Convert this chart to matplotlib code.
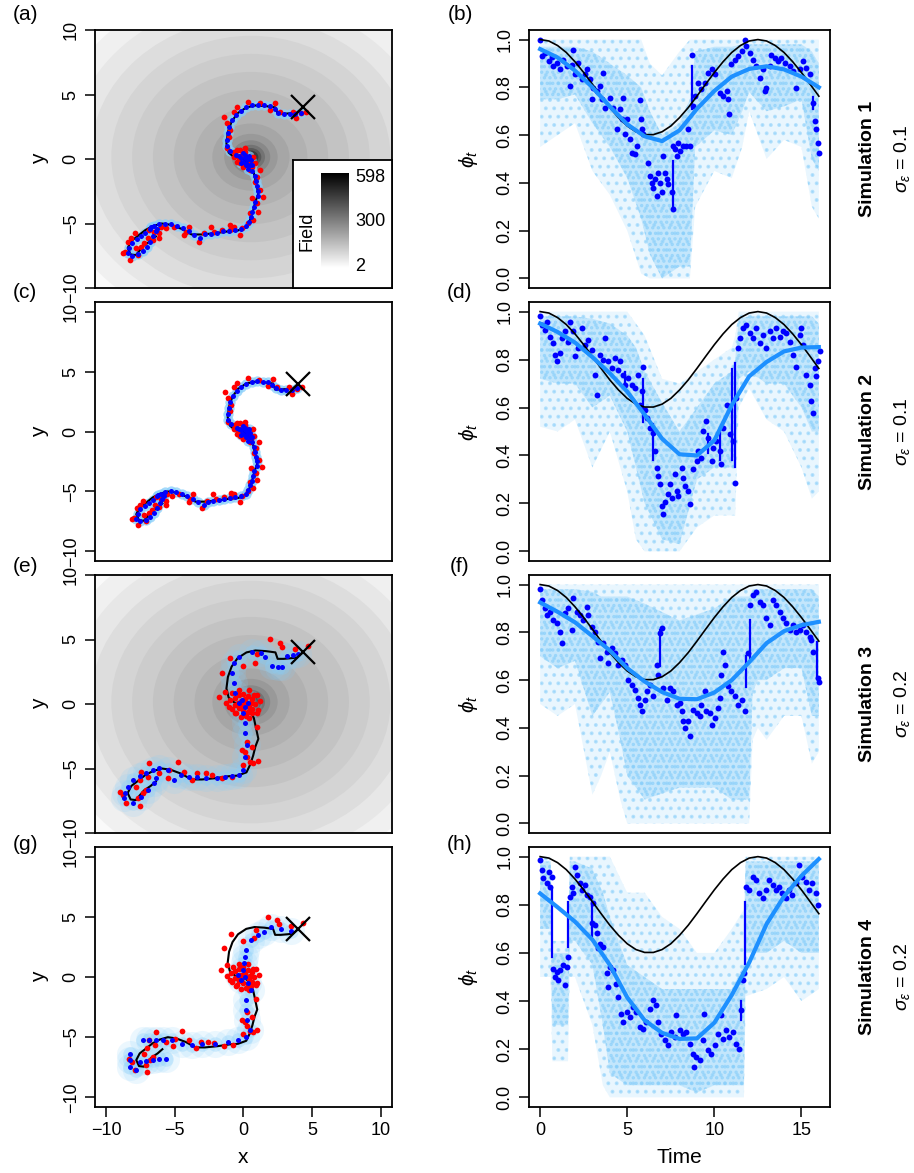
import numpy as np
import matplotlib
matplotlib.use("Agg")
import matplotlib.pyplot as plt
from matplotlib.patches import Ellipse
from matplotlib.colors import LinearSegmentedColormap, Normalize

plt.rcParams["font.family"] = ["Liberation Sans", "DejaVu Sans"]
plt.rcParams["mathtext.fontset"] = "custom"
plt.rcParams["mathtext.rm"] = "Liberation Sans"
plt.rcParams["mathtext.it"] = "Liberation Sans:italic"
plt.rcParams["hatch.linewidth"] = 1.6

# ---------------- data: movement tracks (left column) ----------------
start_xy = (4.0, 4.0)
field_center = (0.5, 0.15)
field_ring_r = [15.0, 13.6, 12.2, 10.8, 9.4, 8.0, 6.6, 5.2, 3.8, 2.6, 1.8, 1.3, 0.95, 0.7, 0.5, 0.3, 0.15]
field_ring_val = [15, 38, 60, 82, 103, 123, 143, 163, 185, 210, 240, 280, 330, 390, 460, 530, 590]
field_ticks = [2, 300, 598]

true_path = [(4.0, 4.0), (3.6, 3.6), (3.2, 3.55), (2.7, 3.5), (2.3, 3.5), (2.15, 4.0),
             (1.5, 4.1), (0.8, 4.15), (0.2, 4.0), (-0.4, 3.55), (-0.8, 2.9), (-1.05, 2.1),
             (-1.15, 1.2), (-1.0, 0.5), (-0.6, 0.1), (0.0, 0.0), (0.4, -0.4), (0.7, -1.1),
             (0.85, -1.9), (1.0, -2.7), (0.8, -3.3), (0.65, -4.0), (0.45, -4.7), (0.2, -5.3),
             (-0.4, -5.55), (-1.0, -5.6), (-1.9, -5.75), (-2.8, -5.85), (-3.5, -5.85),
             (-4.2, -5.4), (-4.9, -5.1), (-5.5, -5.0), (-6.1, -5.2), (-6.6, -5.5),
             (-7.1, -5.95), (-7.55, -6.35), (-7.8, -6.9), (-7.6, -7.4), (-7.25, -7.45),
             (-7.0, -7.1), (-6.7, -6.7), (-6.25, -6.35), (-5.9, -6.0)]

red_ac = [(0.33, 4.44), (1.11, 4.32), (2.11, 4.37), (1.78, 3.8), (2.44, 3.67), (3.33, 3.67),
          (3.56, 3.15), (3.89, 3.54), (4.22, 3.67), (-0.44, 4.06), (-0.67, 3.67), (-1.33, 3.28),
          (-1.11, 2.76), (-0.89, 2.25), (-1.0, 1.73), (-1.11, 0.83), (-0.67, 0.57), (-0.44, -0.21),
          (-0.22, 0.7), (0.11, 0.83), (0.0, -0.59), (0.44, -0.85), (0.89, -1.37), (1.11, -0.85),
          (0.78, -1.76), (1.11, -2.4), (1.33, -2.92), (0.89, -3.44), (0.56, -3.05), (1.0, -4.08),
          (0.44, -4.21), (0.67, -4.73), (0.33, -4.99), (-0.11, -5.37), (-0.22, -5.89),
          (-0.67, -5.25), (-0.89, -5.12), (-1.44, -5.5), (-2.0, -5.63), (-2.67, -5.76),
          (-3.0, -6.41), (-3.67, -5.25), (-3.89, -5.63), (-4.67, -5.25), (-5.22, -5.37),
          (-5.67, -5.76), (-5.56, -5.25), (-6.0, -5.63), (-6.11, -6.28), (-6.33, -5.5),
          (-6.67, -6.54), (-6.89, -6.8), (-7.22, -6.93), (-7.56, -6.15), (-7.78, -6.41),
          (-8.0, -7.18), (-8.11, -7.31), (-7.67, -7.83), (-7.11, -7.44), (-7.33, -5.76),
          (-6.44, -6.15), (-5.67, -6.15), (-4.0, -5.89), (-2.22, -5.25), (-0.89, -5.5),
          (-0.56, 0.44), (-0.33, 0.05), (-0.11, 0.31), (0.22, 0.18), (0.44, -0.21), (0.67, 0.18),
          (-0.22, -0.34), (0.11, 0.57), (0.33, -0.47), (-0.67, 0.18), (-0.44, 0.7), (0.56, -0.59),
          (0.78, -0.34)]

blue_ac = [(3.9, 3.6), (3.5, 3.45), (3.1, 3.5), (2.7, 3.45), (2.35, 3.6), (2.1, 3.9), (1.8, 4.1),
           (1.4, 4.15), (1.0, 4.2), (0.6, 4.15), (0.2, 4.0), (-0.2, 3.75), (-0.5, 3.4), (-0.75, 3.0),
           (-0.95, 2.5), (-1.05, 2.0), (-1.1, 1.5), (-1.1, 1.0), (-0.9, 0.6), (-0.5, 0.3), (-0.2, 0.1),
           (0.1, 0.3), (0.3, 0.0), (0.0, -0.2), (0.2, -0.3), (0.45, -0.5), (0.6, -0.9), (0.75, -1.3),
           (0.85, -1.7), (0.9, -2.1), (1.0, -2.5), (0.95, -2.9), (0.8, -3.3), (0.7, -3.7), (0.6, -4.1),
           (0.5, -4.5), (0.35, -4.9), (0.15, -5.2), (-0.2, -5.4), (-0.6, -5.5), (-1.0, -5.55),
           (-1.4, -5.6), (-1.8, -5.7), (-2.2, -5.8), (-2.6, -5.85), (-2.9, -6.1), (-3.3, -5.9),
           (-3.7, -5.6), (-4.1, -5.35), (-4.5, -5.2), (-4.9, -5.05), (-5.3, -5.0), (-5.7, -5.05),
           (-6.0, -5.2), (-6.3, -5.4), (-6.6, -5.7), (-6.9, -5.95), (-7.2, -6.2), (-7.5, -6.5),
           (-7.7, -6.9), (-7.8, -7.3), (-7.5, -7.5), (-7.1, -7.35), (-6.8, -7.1), (-6.5, -6.8),
           (-6.3, -6.4), (-6.1, -6.0), (-5.9, -5.6), (-6.2, -5.3), (-5.8, -5.4), (-0.3, 0.2),
           (0.1, 0.1), (0.4, 0.2), (0.2, -0.5), (-0.2, -0.3), (0.5, -0.1), (0.0, 0.45), (0.3, -0.8),
           (0.6, -0.5)]

red_eg = [(1.78, 5.01), (2.45, 4.7), (2.56, 4.39), (3.45, 4.24), (4.34, 4.5), (0.89, 3.88),
          (0.78, 3.2), (0.0, 2.95), (-0.89, 3.54), (-1.44, 2.43), (-1.66, 0.57), (-1.22, 0.96),
          (-0.77, 0.83), (-0.33, 1.09), (0.34, 1.09), (0.89, 0.7), (-1.0, -0.21), (-0.55, -0.72),
          (0.56, -0.72), (1.0, -0.46), (0.22, -2.92), (-0.11, -3.57), (0.11, -3.7), (0.22, -4.08),
          (0.45, -4.47), (1.0, -4.42), (0.67, -4.6), (0.0, -4.73), (-0.77, -5.63), (-1.44, -5.76),
          (-2.11, -5.5), (-2.55, -5.37), (-3.11, -5.37), (-3.44, -5.89), (-4.0, -5.25),
          (-4.44, -4.47), (-5.0, -5.12), (-5.11, -5.76), (-5.66, -5.37), (-6.33, -4.6),
          (-6.44, -5.63), (-6.89, -5.25), (-7.0, -5.89), (-7.22, -6.41), (-6.77, -6.93),
          (-6.55, -6.67), (-7.11, -7.31), (-7.0, -7.91), (-7.89, -7.7), (-8.33, -6.8),
          (-8.11, -7.05), (-0.9, 0.3), (-0.6, 0.5), (-0.3, 0.7), (0.0, 0.8), (0.3, 0.6), (0.6, 0.4),
          (0.8, 0.0), (0.6, -0.4), (0.3, -0.6), (0.0, -0.5), (-0.3, -0.3), (-0.6, -0.1),
          (-0.2, 0.2), (0.2, 0.1), (0.4, -0.2), (-0.4, 0.1), (0.1, 0.4), (0.5, 0.1), (-0.1, -0.1),
          (0.7, 0.7), (-0.8, -0.4), (0.9, -0.7), (-0.5, -0.7), (0.2, -0.9), (-1.2, 0.1),
          (1.1, 0.2), (0.4, -1.1), (-0.2, -1.0), (0.9, -1.8), (0.6, -3.3)]

blue_e = [(3.7, 3.9), (3.3, 3.8), (2.9, 3.7), (2.6, 2.9), (2.3, 2.9), (1.9, 2.95), (1.45, 3.67),
          (1.2, 3.93), (0.56, 4.06), (-0.33, 3.67), (-0.66, 3.15), (-0.77, 2.38), (-0.66, 1.6),
          (-0.55, 0.83), (-0.33, 0.05), (-0.11, 0.31), (0.11, -0.21), (0.3, 0.1), (0.0, -0.72),
          (0.11, -1.5), (0.07, -2.27), (0.22, -3.18), (0.11, -4.08), (0.0, -5.12), (-0.33, -5.5),
          (-0.77, -5.58), (-1.22, -5.63), (-1.77, -5.76), (-2.55, -5.76), (-3.11, -5.68),
          (-3.66, -5.63), (-4.22, -5.5), (-4.66, -5.89), (-5.11, -5.12), (-5.66, -4.99),
          (-6.11, -5.12), (-6.55, -5.37), (-7.0, -5.58), (-7.44, -5.89), (-7.77, -6.41),
          (-8.0, -6.93), (-8.07, -7.31), (-7.44, -7.7), (-6.89, -7.18), (-6.44, -6.67),
          (-6.0, -6.15), (-5.89, -5.76)]

blue_g = [(3.43, 3.86), (2.71, 3.97), (2.0, 4.14), (1.52, 3.78), (1.04, 3.5), (0.56, 3.08),
          (0.2, 2.25), (0.08, 1.7), (0.03, 1.14), (-0.04, 0.58), (-0.4, 0.17), (0.08, 0.03),
          (-0.16, -0.25), (0.32, -0.53), (0.56, -1.08), (0.2, -1.92), (0.2, -2.75), (0.27, -3.58),
          (0.44, -4.42), (0.2, -4.97), (-0.4, -5.25), (-1.11, -5.39), (-2.07, -5.53),
          (-3.02, -5.58), (-3.74, -5.67), (-4.46, -5.58), (-5.17, -5.25), (-5.89, -5.25),
          (-6.37, -5.25), (-6.85, -5.25), (-7.33, -5.25), (-5.65, -6.78), (-6.13, -6.83),
          (-6.61, -6.92), (-7.09, -6.97), (-7.56, -7.06), (-8.28, -6.36), (-8.28, -6.92),
          (-8.23, -7.47), (-7.8, -7.75)]

# ---------------- data: phi_t (right column) ----------------
time_grid = [0, 0.5, 1, 1.5, 2, 2.5, 3, 3.5, 4, 4.5, 5, 5.5, 6, 6.5, 7, 7.5, 8, 8.5, 9, 9.5,
             10, 10.5, 11, 11.5, 12, 12.5, 13, 13.5, 14, 14.5, 15, 15.5, 16]
true_phi = [1.0, 0.994, 0.975, 0.946, 0.907, 0.862, 0.813, 0.763, 0.715, 0.673, 0.638, 0.614,
            0.602, 0.602, 0.614, 0.638, 0.673, 0.715, 0.763, 0.813, 0.862, 0.907, 0.946, 0.975,
            0.994, 1.0, 0.994, 0.975, 0.946, 0.907, 0.862, 0.813, 0.763]

fit_t = [0, 1, 2, 3, 4, 5, 6, 7, 8, 9, 10, 11, 12, 13, 14, 15, 16]
fit_b = [0.96, 0.925, 0.87, 0.80, 0.72, 0.645, 0.595, 0.575, 0.62, 0.71, 0.785, 0.845, 0.877,
         0.888, 0.875, 0.845, 0.80]
fit_d = [0.95, 0.915, 0.871, 0.81, 0.743, 0.666, 0.57, 0.47, 0.405, 0.40, 0.463, 0.61, 0.73,
         0.79, 0.834, 0.85, 0.852]
fit_f = [0.925, 0.886, 0.842, 0.784, 0.724, 0.65, 0.594, 0.55, 0.522, 0.52, 0.548, 0.60, 0.675,
         0.755, 0.805, 0.83, 0.844]
fit_h = [0.847, 0.79, 0.73, 0.655, 0.55, 0.415, 0.32, 0.268, 0.243, 0.245, 0.31, 0.425, 0.56,
         0.72, 0.835, 0.92, 0.99]

est_b = [(0.0, 1.0), (0.1, 0.93), (0.29, 0.945), (0.48, 0.91), (0.67, 0.925), (0.76, 0.89),
         (0.96, 0.90), (1.15, 0.875), (1.34, 0.916), (1.53, 0.89), (1.72, 0.805), (1.81, 0.895),
         (1.91, 0.958), (2.0, 0.854), (2.2, 0.90), (2.39, 0.833), (2.58, 0.854), (2.67, 0.875),
         (2.87, 0.833), (2.96, 0.75), (3.06, 0.798), (3.25, 0.784), (3.44, 0.805), (3.53, 0.75),
         (3.63, 0.861), (3.72, 0.714), (4.01, 0.756), (4.2, 0.714), (4.39, 0.624), (4.58, 0.708),
         (4.68, 0.666), (4.78, 0.756), (4.87, 0.603), (4.97, 0.666), (5.16, 0.582), (5.25, 0.526),
         (5.44, 0.52), (5.54, 0.554), (5.73, 0.749), (5.77, 0.666), (5.83, 0.624), (5.92, 0.603),
         (6.21, 0.485), (6.3, 0.429), (6.4, 0.40), (6.49, 0.38), (6.59, 0.415), (6.69, 0.345),
         (6.78, 0.443), (6.88, 0.40), (6.97, 0.36), (7.07, 0.512), (7.16, 0.443), (7.26, 0.415),
         (7.35, 0.394), (7.55, 0.36), (7.6, 0.29), (7.64, 0.554), (7.74, 0.54), (7.83, 0.512),
         (7.93, 0.568), (8.02, 0.533), (8.21, 0.554), (8.4, 0.554), (8.5, 0.624), (8.6, 0.554),
         (8.69, 0.937), (8.79, 0.721), (8.88, 0.763), (9.07, 0.819), (9.26, 0.791), (9.46, 0.819),
         (9.65, 0.861), (9.84, 0.875), (10.03, 0.854), (10.31, 0.777), (10.51, 0.763),
         (10.7, 0.784), (10.79, 0.75), (10.85, 0.687), (10.98, 0.896), (11.17, 0.916),
         (11.37, 0.93), (11.56, 0.951), (11.75, 1.0), (11.84, 0.972), (12.03, 0.944),
         (12.23, 0.916), (12.42, 0.889), (12.61, 0.84), (12.8, 0.875), (12.89, 0.784),
         (12.99, 0.798), (13.18, 0.889), (13.27, 0.937), (13.47, 0.923), (13.66, 0.909),
         (13.85, 0.923), (14.04, 0.902), (14.33, 0.889), (14.52, 0.868), (14.71, 0.798),
         (14.9, 0.875), (15.09, 0.909), (15.28, 0.882), (15.47, 0.854), (15.66, 0.735),
         (15.76, 0.659), (15.85, 0.624), (15.95, 0.568), (16.0, 0.526)]
est_d = [(0.0, 0.983), (0.1, 0.945), (0.29, 0.924), (0.38, 0.958), (0.57, 0.896), (0.76, 0.868),
         (0.86, 0.82), (0.96, 0.792), (1.15, 0.827), (1.24, 0.889), (1.43, 0.917), (1.62, 0.875),
         (1.72, 0.958), (1.91, 0.917), (2.0, 0.813), (2.2, 0.848), (2.39, 0.931), (2.58, 0.861),
         (2.77, 0.882), (2.96, 0.84), (3.15, 0.737), (3.25, 0.654), (3.44, 0.82), (3.63, 0.80),
         (3.72, 0.889), (3.92, 0.792), (4.11, 0.765), (4.3, 0.806), (4.49, 0.758), (4.58, 0.792),
         (4.78, 0.737), (4.87, 0.695), (5.06, 0.723), (5.25, 0.695), (5.44, 0.681), (5.64, 0.737),
         (5.73, 0.612), (5.83, 0.668), (5.92, 0.771), (6.02, 0.591), (6.11, 0.557), (6.3, 0.515),
         (6.49, 0.494), (6.59, 0.418), (6.69, 0.349), (6.78, 0.314), (6.88, 0.28), (6.97, 0.19),
         (7.07, 0.155), (7.16, 0.204), (7.35, 0.238), (7.45, 0.28), (7.55, 0.224), (7.74, 0.321),
         (7.83, 0.252), (7.93, 0.231), (8.12, 0.349), (8.21, 0.307), (8.31, 0.273), (8.5, 0.252),
         (8.6, 0.197), (8.79, 0.342), (8.98, 0.377), (9.07, 0.418), (9.26, 0.391), (9.36, 0.501),
         (9.55, 0.543), (9.65, 0.474), (9.84, 0.377), (9.93, 0.432), (10.12, 0.46),
         (10.32, 0.418), (10.41, 0.363), (10.51, 0.515), (10.7, 0.612), (10.89, 0.488),
         (11.08, 0.46), (11.17, 0.287), (11.27, 0.64), (11.37, 0.848), (11.46, 0.889),
         (11.65, 0.931), (11.84, 0.945), (12.03, 0.91), (12.23, 0.889), (12.42, 0.931),
         (12.61, 0.868), (12.8, 0.903), (12.99, 0.848), (13.18, 0.917), (13.37, 0.889),
         (13.56, 0.931), (13.75, 0.896), (13.94, 0.917), (14.14, 0.91), (14.33, 0.875),
         (14.52, 0.82), (14.71, 0.771), (14.9, 0.903), (15.0, 0.931), (15.09, 0.861),
         (15.28, 0.737), (15.47, 0.695), (15.57, 0.626), (15.66, 0.578), (15.76, 0.765),
         (15.85, 0.73), (15.95, 0.792), (16.05, 0.834)]
est_f = [(0.0, 0.983), (0.1, 0.935), (0.29, 0.90), (0.38, 0.872), (0.57, 0.886), (0.76, 0.851),
         (0.96, 0.838), (1.15, 0.803), (1.24, 0.754), (1.43, 0.879), (1.62, 0.90), (1.81, 0.81),
         (1.91, 0.942), (2.1, 0.886), (2.29, 0.872), (2.48, 0.851), (2.67, 0.907), (2.77, 0.872),
         (2.96, 0.824), (3.15, 0.803), (3.34, 0.761), (3.44, 0.692), (3.63, 0.754), (3.82, 0.719),
         (3.92, 0.671), (4.11, 0.733), (4.3, 0.713), (4.49, 0.664), (4.68, 0.685), (4.87, 0.664),
         (5.06, 0.601), (5.25, 0.581), (5.44, 0.56), (5.64, 0.525), (5.73, 0.497), (5.83, 0.469),
         (6.02, 0.518), (6.11, 0.553), (6.3, 0.581), (6.49, 0.532), (6.69, 0.664), (6.78, 0.622),
         (6.88, 0.796), (6.97, 0.817), (7.07, 0.567), (7.26, 0.518), (7.45, 0.567), (7.64, 0.553),
         (7.83, 0.497), (8.02, 0.504), (8.12, 0.469), (8.21, 0.428), (8.31, 0.40), (8.5, 0.428),
         (8.6, 0.365), (8.79, 0.476), (8.98, 0.463), (9.17, 0.449), (9.26, 0.497), (9.46, 0.553),
         (9.55, 0.469), (9.74, 0.463), (9.84, 0.414), (10.03, 0.442), (10.22, 0.483),
         (10.32, 0.525), (10.41, 0.622), (10.51, 0.719), (10.6, 0.664), (10.79, 0.574),
         (10.98, 0.553), (11.17, 0.532), (11.37, 0.497), (11.56, 0.518), (11.75, 0.469),
         (11.94, 0.713), (12.03, 0.914), (12.23, 0.956), (12.42, 0.969), (12.61, 0.928),
         (12.8, 0.914), (12.99, 0.858), (13.18, 0.831), (13.37, 0.935), (13.56, 0.914),
         (13.75, 0.886), (13.94, 0.858), (14.14, 0.838), (14.33, 0.81), (14.52, 0.831),
         (14.71, 0.803), (14.9, 0.81), (15.09, 0.831), (15.28, 0.803), (15.47, 0.782),
         (15.57, 0.768), (15.66, 0.719), (15.95, 0.608), (16.0, 0.594)]
est_h = [(0.0, 0.986), (0.1, 0.945), (0.19, 0.91), (0.38, 0.889), (0.48, 0.938), (0.57, 0.875),
         (0.67, 0.917), (0.76, 0.535), (0.86, 0.50), (0.95, 0.522), (1.05, 0.487), (1.14, 0.528),
         (1.33, 0.549), (1.43, 0.466), (1.52, 0.542), (1.62, 0.584), (1.72, 0.834), (1.81, 0.875),
         (1.91, 0.847), (2.0, 0.958), (2.1, 0.924), (2.29, 0.889), (2.38, 0.861), (2.57, 0.882),
         (2.67, 0.84), (2.86, 0.834), (2.95, 0.723), (3.05, 0.806), (3.14, 0.716), (3.24, 0.681),
         (3.34, 0.619), (3.43, 0.639), (3.62, 0.626), (3.81, 0.515), (3.91, 0.459), (4.0, 0.542),
         (4.19, 0.528), (4.38, 0.473), (4.48, 0.417), (4.67, 0.348), (4.76, 0.313), (4.96, 0.355),
         (5.15, 0.334), (5.34, 0.376), (5.53, 0.355), (5.72, 0.293), (5.91, 0.286), (6.1, 0.313),
         (6.29, 0.369), (6.48, 0.404), (6.67, 0.383), (6.77, 0.313), (6.96, 0.265), (7.15, 0.237),
         (7.34, 0.216), (7.53, 0.272), (7.72, 0.251), (7.81, 0.341), (8.0, 0.279), (8.2, 0.265),
         (8.39, 0.272), (8.58, 0.223), (8.77, 0.182), (8.86, 0.126), (8.96, 0.168), (9.15, 0.154),
         (9.34, 0.237), (9.43, 0.348), (9.62, 0.196), (9.81, 0.182), (10.01, 0.216), (10.2, 0.265),
         (10.39, 0.341), (10.48, 0.244), (10.67, 0.279), (10.86, 0.251), (11.05, 0.272),
         (11.24, 0.223), (11.43, 0.203), (11.53, 0.362), (11.62, 0.487), (11.72, 0.515),
         (11.82, 0.875), (12.01, 0.861), (12.2, 0.917), (12.39, 0.903), (12.58, 0.847),
         (12.77, 0.827), (12.96, 0.861), (13.15, 0.903), (13.34, 0.882), (13.53, 0.861),
         (13.72, 0.875), (13.91, 0.847), (14.1, 0.827), (14.29, 0.861), (14.48, 0.84),
         (14.67, 0.889), (14.87, 0.965), (15.06, 0.917), (15.25, 0.896), (15.44, 0.861),
         (15.63, 0.889), (15.82, 0.847), (15.95, 0.799)]

jumps_b = [(7.6, 0.49, 0.29), (8.7, 0.89, 0.71), (15.66, 0.76, 0.71)]
jumps_d = [(4.87, 0.75, 0.68), (5.92, 0.72, 0.54), (6.49, 0.53, 0.38), (9.65, 0.49, 0.41),
           (10.32, 0.50, 0.38), (11.0, 0.76, 0.38), (11.17, 0.785, 0.35)]
jumps_f = [(6.88, 0.81, 0.66), (11.84, 0.70, 0.57), (12.03, 0.85, 0.68), (15.9, 0.76, 0.61)]
jumps_h = [(0.7, 0.87, 0.585), (1.62, 0.81, 0.625), (3.0, 0.81, 0.67), (11.76, 0.81, 0.556),
           (11.53, 0.40, 0.32)]

# particle cloud envelopes: (t, outer low, inner low, inner high, outer high)
cloud_b = [(0, 0.55, 0.75, 0.97, 1.0), (1, 0.6, 0.75, 0.97, 1.0), (2, 0.65, 0.77, 0.97, 1.0),
           (3, 0.45, 0.65, 0.95, 1.0), (4, 0.35, 0.55, 0.9, 1.0), (5, 0.2, 0.42, 0.85, 1.0),
           (5.8, 0.02, 0.25, 0.8, 1.0), (6.3, 0.0, 0.1, 0.7, 0.9), (7, 0.0, 0.0, 0.6, 0.85),
           (8, 0.0, 0.05, 0.65, 0.95), (8.6, 0.0, 0.05, 0.75, 1.0), (8.9, 0.3, 0.55, 0.95, 1.0),
           (10, 0.45, 0.62, 0.97, 1.0), (11, 0.42, 0.6, 0.97, 1.0), (11.6, 0.55, 0.7, 0.98, 1.0),
           (12, 0.7, 0.78, 0.98, 1.0), (13, 0.5, 0.7, 0.98, 1.0), (14, 0.58, 0.72, 0.98, 1.0),
           (15, 0.55, 0.75, 0.98, 1.0), (15.6, 0.3, 0.5, 0.95, 1.0), (16, 0.25, 0.45, 0.9, 1.0)]
cloud_d = [(0, 0.52, 0.72, 0.98, 1.0), (1, 0.5, 0.7, 0.98, 1.0), (2, 0.55, 0.7, 0.98, 1.0),
           (3, 0.35, 0.6, 0.97, 1.0), (4, 0.5, 0.65, 0.95, 1.0), (5, 0.25, 0.5, 0.9, 1.0),
           (5.5, 0.05, 0.35, 0.85, 0.95), (6, 0.0, 0.2, 0.75, 0.9), (7, 0.0, 0.05, 0.62, 0.72),
           (8, 0.0, 0.03, 0.5, 0.7), (9, 0.1, 0.3, 0.6, 0.75), (10, 0.15, 0.35, 0.7, 0.8),
           (11, 0.15, 0.35, 0.75, 0.85), (11.2, 0.15, 0.35, 0.8, 0.9), (11.4, 0.6, 0.72, 0.97, 1.0),
           (12, 0.68, 0.75, 0.98, 1.0), (13, 0.55, 0.7, 0.98, 1.0), (14, 0.5, 0.7, 0.98, 1.0),
           (15, 0.35, 0.6, 0.98, 1.0), (15.6, 0.22, 0.5, 0.98, 1.0), (16, 0.25, 0.5, 0.95, 1.0)]
cloud_f = [(0, 0.5, 0.7, 0.98, 1.0), (1, 0.45, 0.65, 0.98, 1.0), (2, 0.5, 0.68, 0.98, 1.0),
           (3, 0.12, 0.45, 0.97, 1.0), (3.5, 0.2, 0.5, 0.95, 1.0), (4, 0.3, 0.55, 0.95, 1.0),
           (4.6, 0.1, 0.35, 0.95, 1.0), (5, 0.0, 0.2, 0.95, 1.0), (6, 0.0, 0.1, 0.92, 1.0),
           (8, 0.0, 0.15, 0.85, 1.0), (10, 0.0, 0.15, 0.9, 1.0), (11, 0.0, 0.1, 0.95, 1.0),
           (12, 0.0, 0.1, 0.95, 1.0), (12.2, 0.35, 0.55, 0.98, 1.0), (12.5, 0.4, 0.6, 0.98, 1.0),
           (13, 0.35, 0.6, 0.98, 1.0), (14, 0.45, 0.65, 0.98, 1.0), (15, 0.45, 0.65, 0.98, 1.0),
           (15.6, 0.25, 0.45, 0.98, 1.0), (16, 0.3, 0.45, 0.95, 1.0)]
cloud_h = [(0, 0.5, 0.7, 0.98, 1.0), (0.6, 0.5, 0.7, 0.98, 1.0), (0.7, 0.15, 0.3, 0.6, 0.65),
           (1.6, 0.15, 0.3, 0.6, 0.65), (1.7, 0.5, 0.65, 0.98, 1.0), (2, 0.5, 0.65, 0.98, 1.0),
           (3, 0.3, 0.55, 0.95, 1.0), (3.6, 0.05, 0.3, 0.85, 1.0), (4, 0.0, 0.1, 0.75, 1.0),
           (5, 0.0, 0.05, 0.55, 0.85), (6, 0.0, 0.05, 0.5, 0.85), (7, 0.0, 0.05, 0.45, 0.75),
           (8, 0.0, 0.05, 0.45, 0.7), (9, 0.0, 0.02, 0.45, 0.6), (10, 0.0, 0.05, 0.45, 0.6),
           (11, 0.0, 0.05, 0.45, 0.7), (11.7, 0.0, 0.05, 0.55, 0.78), (11.8, 0.42, 0.6, 0.98, 1.0),
           (13, 0.45, 0.6, 0.98, 1.0), (14, 0.5, 0.65, 0.98, 1.0), (15, 0.4, 0.6, 0.98, 1.0),
           (16, 0.45, 0.6, 0.98, 1.0)]

sim_names = ["Simulation 1", "Simulation 2", "Simulation 3", "Simulation 4"]
sigma_vals = ["0.1", "0.1", "0.2", "0.2"]

# ---------------- figure ----------------
W, H = 914, 1173
fig = plt.figure(figsize=(W / 100, H / 100), dpi=100)
gray_cmap = LinearSegmentedColormap.from_list("field", ["white", "black"])
fnorm = Normalize(2, 598)

rows_px = [(30, 288), (302, 561), (575, 833), (847, 1107)]
CLOUD = "#87CEFA"


def px_axes(x0, x1, y0, y1):
    return fig.add_axes([x0 / W, 1 - y1 / H, (x1 - x0) / W, (y1 - y0) / H])


def style(ax):
    for s in ax.spines.values():
        s.set_linewidth(1.3)
        s.set_zorder(10)
    ax.tick_params(direction="out", length=7, width=1.1, labelsize=13, pad=4)
    for lab in ax.get_yticklabels():
        lab.set_rotation(90)
        lab.set_va("center")


def draw_field(ax):
    for r, v in zip(field_ring_r, field_ring_val):
        ax.add_patch(Ellipse(field_center, 2 * r, 2 * r, color=gray_cmap(fnorm(v)),
                             lw=0, zorder=0))


def track_panel(ax, field, exact, red, blue, wide):
    if field:
        draw_field(ax)
    bx, by = zip(*blue)
    if wide:
        ax.scatter(bx, by, s=380, color=CLOUD, alpha=0.16, lw=0, zorder=1)
        ax.scatter(bx, by, s=110, color=CLOUD, alpha=0.3, lw=0, zorder=1)
    else:
        ax.scatter(bx, by, s=55, color=CLOUD, alpha=0.75, lw=0, zorder=1)
    px, py = zip(*true_path)
    ax.plot(px, py, color="black", lw=1.5, zorder=2)
    rx, ry = zip(*red)
    ax.scatter(rx, ry, s=17, color="red", lw=0, zorder=3)
    ax.scatter(bx, by, s=13, color="blue", lw=0, zorder=4)
    ax.plot(*start_xy, marker="x", ms=17, mew=1.6, color="black", zorder=5)
    lim = (-10, 10) if exact else (-10.8, 10.8)
    ax.set_xlim(lim)
    ax.set_ylim(lim)
    ax.set_yticks([-10, -5, 0, 5, 10])
    ax.set_xticks([-10, -5, 0, 5, 10])
    ax.set_ylabel("y", fontsize=15, labelpad=10)
    style(ax)


def phi_panel(ax, cloud, est, jumps, fit):
    ct, lo_o, lo_i, hi_i, hi_o = zip(*cloud)
    # sparse outer particles: dotted texture, denser core: light wash
    ax.fill_between(ct, lo_o, hi_o, facecolor=CLOUD, alpha=0.18, lw=0, zorder=1)
    ax.fill_between(ct, lo_o, hi_o, facecolor="none", edgecolor=CLOUD, hatch="..",
                    alpha=0.55, lw=0, zorder=1)
    ax.fill_between(ct, lo_i, hi_i, facecolor=CLOUD, alpha=0.38, lw=0, zorder=1)
    ax.fill_between(ct, lo_i, hi_i, facecolor="none", edgecolor=CLOUD, hatch="...",
                    alpha=0.7, lw=0, zorder=1)
    for t, a, b in jumps:
        ax.plot([t, t], [a, b], color="blue", lw=1.6, zorder=2)
    et, ev = zip(*est)
    ax.scatter(et, ev, s=18, color="blue", lw=0, zorder=3)
    ax.plot(time_grid, true_phi, color="black", lw=1.2, zorder=4)
    ax.plot(fit_t, fit, color="#1E90FF", lw=3, zorder=5)
    ax.set_xlim(-0.64, 16.64)
    ax.set_ylim(-0.04, 1.04)
    ax.set_yticks([0.0, 0.2, 0.4, 0.6, 0.8, 1.0])
    ax.set_yticklabels(["0.0", "0.2", "0.4", "0.6", "0.8", "1.0"])
    ax.set_xticks([0, 5, 10, 15])
    ax.set_ylabel(r"$\phi_t$", fontsize=15, labelpad=12)
    style(ax)


left_specs = [(True, True, red_ac, blue_ac, False), (False, False, red_ac, blue_ac, False),
              (True, True, red_eg, blue_e, True), (False, False, red_eg, blue_g, True)]
right_specs = [(cloud_b, est_b, jumps_b, fit_b), (cloud_d, est_d, jumps_d, fit_d),
               (cloud_f, est_f, jumps_f, fit_f), (cloud_h, est_h, jumps_h, fit_h)]
letters_left = ["(a)", "(c)", "(e)", "(g)"]
letters_right = ["(b)", "(d)", "(f)", "(h)"]
letter_y = [15, 293, 566, 845]

for i, (y0, y1) in enumerate(rows_px):
    axl = px_axes(95, 392, y0, y1)
    track_panel(axl, *left_specs[i])
    axr = px_axes(529, 830, y0, y1)
    phi_panel(axr, *right_specs[i])
    if i < 3:
        axl.tick_params(axis="x", bottom=False, labelbottom=False)
        axr.tick_params(axis="x", bottom=False, labelbottom=False)
    else:
        axl.set_xlabel("x", fontsize=15, labelpad=6)
        axr.set_xlabel("Time", fontsize=15, labelpad=6)
    fig.text(25 / W, 1 - letter_y[i] / H, letters_left[i], fontsize=15, ha="center", va="center")
    fig.text(460 / W, 1 - letter_y[i] / H, letters_right[i], fontsize=15, ha="center", va="center")
    yc = 1 - (y0 + y1) / 2 / H
    fig.text(868 / W, yc, sim_names[i], fontsize=14, fontweight="bold", rotation=90,
             ha="center", va="center")
    fig.text(902 / W, yc, r"$\sigma_\epsilon$ = " + sigma_vals[i], fontsize=14, rotation=90,
             ha="center", va="center")

    if i == 0:
        # field legend box
        ins = axl.inset_axes([0.667, 0.0, 0.333, 0.496])
        ins.set_zorder(12)
        ins.set_xlim(0, 1)
        ins.set_ylim(0, 1)
        ins.set_xticks([])
        ins.set_yticks([])
        ins.set_facecolor("white")
        for s in ins.spines.values():
            s.set_linewidth(1.3)
        grad = np.linspace(2, 598, 200).reshape(-1, 1)
        ins.imshow(grad, cmap=gray_cmap, norm=fnorm, origin="lower", aspect="auto",
                   extent=(0.284, 0.559, 0.156, 0.898))
        for v, yy in zip(field_ticks, [0.17, 0.516, 0.86]):
            ins.text(0.63, yy, str(v), fontsize=13, va="center", ha="left")
        ins.text(0.14, 0.445, "Field", fontsize=13, rotation=90, ha="center", va="center")

fig.savefig("out.png", dpi=100)
